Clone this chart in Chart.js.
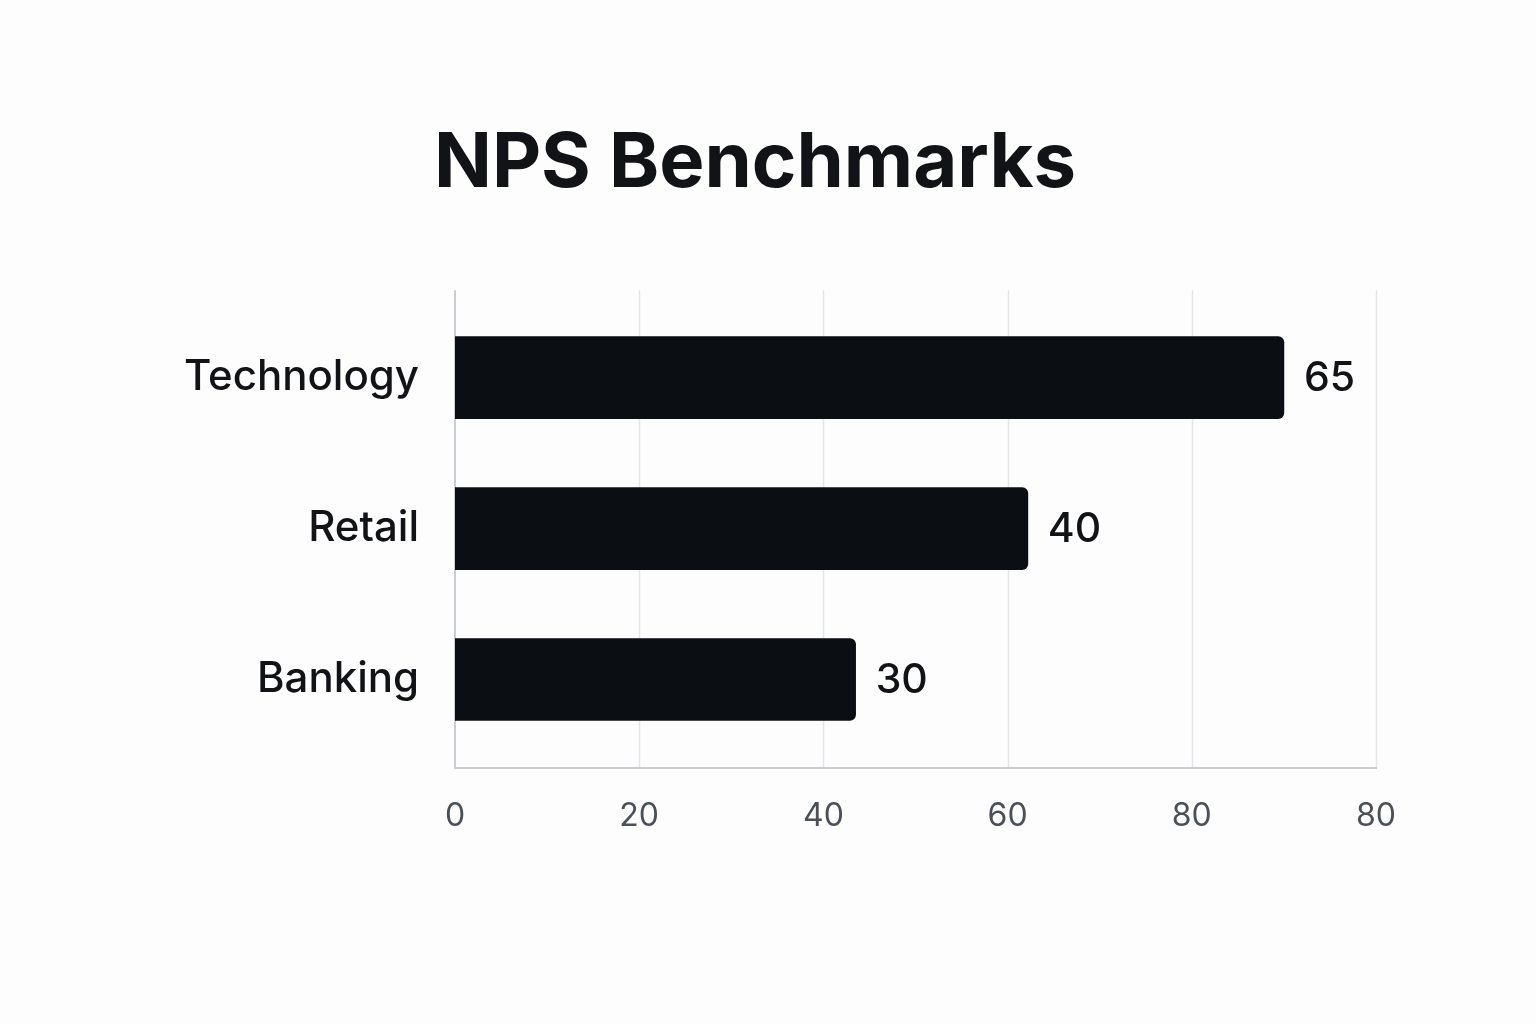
<!DOCTYPE html>
<html>
<head>
<meta charset="utf-8">
<script src="https://cdn.jsdelivr.net/npm/chart.js@4.4.1/dist/chart.umd.min.js"></script>
<style>
  html, body { margin: 0; padding: 0; background: #fdfdfd; }
  #wrap { width: 1536px; height: 1024px; }
</style>
</head>
<body>
<div id="wrap"><canvas id="c" width="1536" height="1024"></canvas></div>
<script>
// ---- data ----
const titleText = 'NPS Benchmarks';
const categories = ['Technology', 'Retail', 'Banking'];
// bar extents as drawn against the x axis (0-100 scale positions)
const barLengths = [90, 62.2, 43.5];
// value labels printed at the bar ends
const valueLabels = ['65', '40', '30'];
// x axis tick labels as printed
const tickLabels = ['0', '20', '40', '60', '80', '80'];

const FONT = 'Inter, "Noto Sans", "DejaVu Sans", sans-serif';

const framePlugin = {
  id: 'frame',
  beforeDatasetsDraw(chart) {
    const { ctx, chartArea, scales } = chart;
    const x = scales.x;
    const top = chartArea.top - 12;
    const bottom = chartArea.bottom + 13;
    ctx.save();
    ctx.strokeStyle = '#e4e6e9';
    ctx.lineWidth = 1.5;
    x.ticks.forEach((t, i) => {
      if (i === 0) return;
      const px = Math.round(x.getPixelForTick(i)) + 0.5;
      ctx.beginPath();
      ctx.moveTo(px, top);
      ctx.lineTo(px, bottom);
      ctx.stroke();
    });
    ctx.strokeStyle = '#c9ccd1';
    ctx.lineWidth = 2;
    ctx.beginPath();
    ctx.moveTo(chartArea.left, top);
    ctx.lineTo(chartArea.left, bottom);
    ctx.lineTo(chartArea.right + 1, bottom);
    ctx.stroke();
    ctx.restore();
  },
  afterDatasetsDraw(chart) {
    const { ctx } = chart;
    const meta = chart.getDatasetMeta(0);
    ctx.save();
    ctx.fillStyle = '#111316';
    ctx.font = '500 41px ' + FONT;
    ctx.textAlign = 'left';
    ctx.textBaseline = 'middle';
    meta.data.forEach((el, i) => {
      ctx.fillText(valueLabels[i], el.x + 20, el.y + 1);
    });
    ctx.restore();
  }
};

new Chart(document.getElementById('c'), {
  type: 'bar',
  data: {
    labels: categories,
    datasets: [{
      data: barLengths,
      backgroundColor: '#0b0f13',
      borderRadius: 6,
      borderSkipped: 'start',
      barThickness: 82
    }]
  },
  options: {
    indexAxis: 'y',
    responsive: false,
    animation: false,
    devicePixelRatio: 1,
    events: [],
    layout: { padding: { top: 0, left: 0, right: 26, bottom: 0 } },
    plugins: {
      legend: { display: false },
      tooltip: { enabled: false },
      title: {
        display: true,
        text: titleText,
        color: '#111316',
        font: { family: FONT, size: 76, weight: '700' },
        padding: { top: 119, bottom: 92 }
      }
    },
    scales: {
      x: {
        type: 'linear',
        min: 0,
        max: 100,
        ticks: {
          stepSize: 20,
          color: '#4b5058',
          font: { family: FONT, size: 32 },
          padding: 34,
          maxRotation: 0,
          callback: (v, i) => tickLabels[i]
        },
        grid: { display: false },
        border: { display: false },
        afterFit: (s) => { s.height = 269; }
      },
      y: {
        type: 'category',
        ticks: {
          color: '#111316',
          font: { family: FONT, size: 42, weight: '500' },
          padding: 28
        },
        grid: { display: false },
        border: { display: false },
        afterFit: (s) => { s.width = 455; }
      },
      y2: {
        type: 'linear',
        position: 'right',
        display: true,
        ticks: { display: false },
        grid: { display: false },
        border: { display: false },
        afterFit: (s) => { s.width = 134; }
      }
    }
  },
  plugins: [framePlugin]
});
</script>
</body>
</html>
